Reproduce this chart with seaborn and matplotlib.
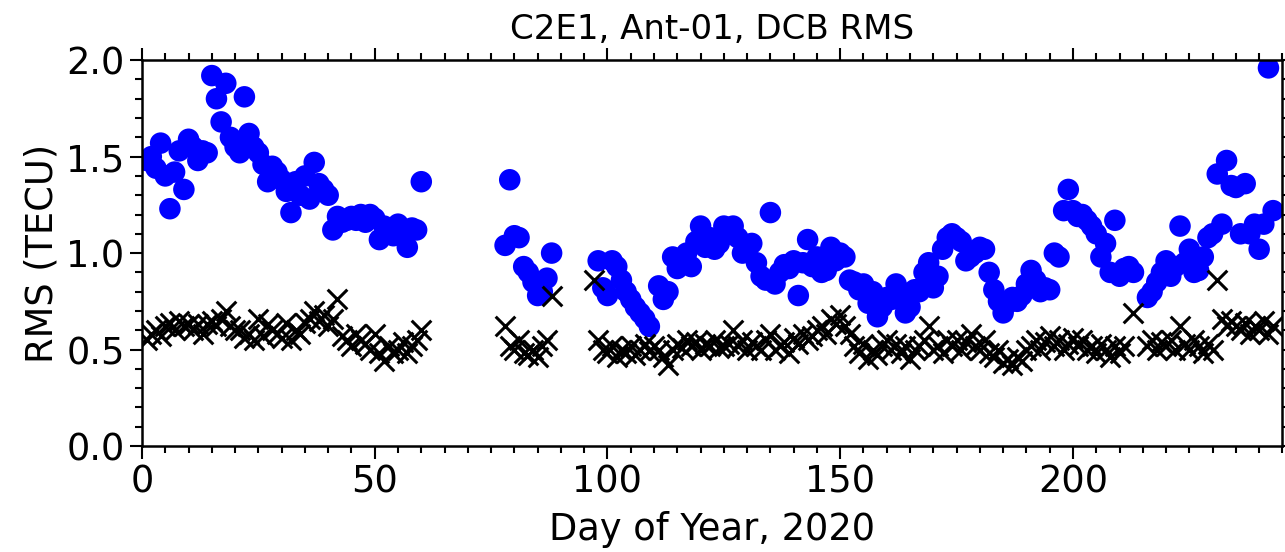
import numpy as np
import pandas as pd
import matplotlib
matplotlib.use("Agg")
import matplotlib.pyplot as plt
import seaborn as sns
from matplotlib.ticker import MultipleLocator

nan = np.nan

# ---- data ----
days_a = list(range(1, 61))
blue_a = [1.48, 1.50, 1.44, 1.57, 1.40, 1.23, 1.42, 1.53, 1.33, 1.59,
          1.55, 1.48, 1.53, 1.52, 1.92, 1.80, 1.68, 1.88, 1.60, 1.55,
          1.52, 1.81, 1.62, 1.55, 1.52, 1.46, 1.37, 1.45, 1.42, 1.38,
          1.32, 1.21, 1.37, 1.30, 1.40, 1.28, 1.47, 1.36, 1.33, 1.30,
          1.12, 1.19, 1.16, 1.17, 1.19, 1.17, 1.20, 1.16, 1.20, 1.18,
          1.07, 1.14, 1.12, 1.09, 1.15, 1.10, 1.03, 1.13, 1.12, 1.37]
cross_a = [0.55, 0.58, 0.60, 0.57, 0.62, 0.64, 0.60, 0.65, 0.62, 0.63,
           0.60, 0.63, 0.58, 0.63, 0.65, 0.62, 0.66, 0.70, 0.62, 0.60,
           0.60, 0.56, 0.58, 0.55, 0.66, 0.57, 0.63, 0.60, 0.58, 0.56,
           0.64, 0.55, 0.60, 0.58, 0.64, 0.66, 0.70, 0.65, 0.68, 0.62,
           0.66, 0.76, 0.57, 0.55, 0.52, 0.58, 0.55, 0.53, 0.50, 0.58,
           0.48, 0.44, 0.52, 0.48, 0.50, 0.54, 0.48, 0.52, 0.55, 0.60]

days_b = list(range(78, 89))
blue_b = [1.04, 1.38, 1.09, 1.08, 0.93, 0.90, 0.85, 0.78, 0.80, 0.87, 1.00]
cross_b = [0.62, 0.52, 0.50, 0.55, 0.48, 0.47, 0.50, 0.46, 0.52, 0.55, 0.78]

days_c = list(range(96, 244))
blue_c = [nan, nan, 0.96, 0.82, 0.78, 0.96, 0.93, 0.86, 0.80, 0.76,
          0.72, 0.69, 0.66, 0.62, nan, 0.83, 0.76, 0.80, 0.98, 0.92,
          0.95, 1.00, 0.93, 1.06, 1.14, 1.03, 1.08, 1.02, 1.05, 1.14,
          1.10, 1.14, 1.08, 1.00, 1.02, 1.05, 0.95, 0.88, 0.86, 1.21,
          0.84, 0.90, 0.94, 0.92, 0.96, 0.78, 0.95, 1.07, 0.93, 0.98,
          0.90, 0.91, 1.03, 0.96, 1.00, 0.98, 0.86, 0.85, 0.81, 0.84,
          0.74, 0.80, 0.67, 0.72, 0.77, 0.76, 0.84, 0.80, 0.69, 0.72,
          0.81, 0.80, 0.90, 0.95, 0.82, 0.88, 1.02, 1.08, 1.10, 1.08,
          1.06, 0.96, 0.98, 1.00, 1.03, 1.02, 0.90, 0.81, 0.75, 0.69,
          0.74, 0.77, 0.75, 0.78, 0.84, 0.91, 0.86, 0.80, 0.82, 0.81,
          1.00, 0.98, 1.22, 1.33, 1.22, 1.19, 1.20, 1.17, 1.14, 1.10,
          0.98, 1.05, 0.90, 1.17, 0.88, 0.92, 0.93, 0.90, nan, nan,
          0.77, 0.80, 0.85, 0.90, 0.96, 0.88, 0.93, 1.14, 0.95, 1.02,
          0.90, 0.91, 0.98, 1.08, 1.10, 1.41, 1.15, 1.48, 1.35, 1.34,
          1.10, 1.36, 1.10, 1.15, 1.02, 1.15, 1.96, 1.22]
cross_c = [nan, 0.86, 0.55, 0.50, 0.48, 0.52, 0.46, 0.50, 0.48, 0.52,
           0.47, 0.50, 0.53, 0.49, 0.52, 0.50, 0.46, 0.42, 0.50, 0.53,
           0.51, 0.55, 0.52, 0.54, 0.50, 0.53, 0.52, 0.55, 0.51, 0.52,
           0.53, 0.60, 0.52, 0.55, 0.50, 0.54, 0.52, 0.50, 0.55, 0.58,
           0.50, 0.52, 0.54, 0.48, 0.56, 0.53, 0.58, 0.55, 0.57, 0.60,
           0.62, 0.58, 0.66, 0.63, 0.68, 0.62, 0.58, 0.52, 0.48, 0.53,
           0.45, 0.50, 0.47, 0.52, 0.55, 0.50, 0.53, 0.48, 0.52, 0.45,
           0.50, 0.52, 0.55, 0.62, 0.50, 0.52, 0.48, 0.55, 0.52, 0.55,
           0.50, 0.54, 0.58, 0.52, 0.50, 0.55, 0.48, 0.46, 0.50, 0.43,
           0.45, 0.42, 0.46, 0.44, 0.50, 0.52, 0.55, 0.50, 0.54, 0.57,
           0.52, 0.55, 0.50, 0.53, 0.56, 0.52, 0.55, 0.50, 0.52, 0.48,
           0.53, 0.50, 0.46, 0.52, 0.48, 0.52, nan, 0.69, nan, nan,
           0.52, 0.55, 0.50, 0.54, 0.52, 0.55, 0.50, 0.62, 0.53, 0.50,
           0.55, 0.52, 0.48, 0.53, 0.50, 0.86, 0.66, 0.62, 0.65, 0.62,
           0.60, 0.64, 0.58, 0.62, 0.60, 0.65, 0.58, 0.62]

days = days_a + days_b + days_c
df = pd.DataFrame({"day": days,
                   "rms_blue": blue_a + blue_b + blue_c,
                   "rms_cross": cross_a + cross_b + cross_c})

# ---- plot ----
sns.set_style("white")
plt.rcParams['font.family'] = ['DejaVu Sans']
for k in ["text.color", "axes.labelcolor", "xtick.color", "ytick.color",
          "axes.edgecolor"]:
    plt.rcParams[k] = "black"
FS = 26.5

fig = plt.figure(figsize=(12.85, 5.52), dpi=100)
ax = fig.add_axes([0.1105, 0.192, 0.8875, 0.699])

d1 = df.dropna(subset=["rms_blue"])
sns.scatterplot(data=d1, x="day", y="rms_blue", ax=ax, color="#0000ff",
                s=240, marker="o", edgecolor="none", linewidth=0, zorder=2)
d2 = df.dropna(subset=["rms_cross"])
sns.scatterplot(data=d2, x="day", y="rms_cross", ax=ax, color="black",
                s=200, marker="x", linewidth=2.2, zorder=3)

ax.set_xlim(0, 245)
ax.set_ylim(0, 2.0)
ax.xaxis.set_major_locator(MultipleLocator(50))
ax.xaxis.set_minor_locator(MultipleLocator(5))
ax.yaxis.set_major_locator(MultipleLocator(0.5))
ax.yaxis.set_minor_locator(MultipleLocator(0.1))
ax.yaxis.set_major_formatter(matplotlib.ticker.FormatStrFormatter('%.1f'))

ax.tick_params(which="both", direction="out", top=True, right=True,
               bottom=True, left=True, width=1.5, labelsize=FS, color="black",
               labelcolor="black")
ax.tick_params(which="major", length=9)
ax.tick_params(which="minor", length=5)
for sp in ax.spines.values():
    sp.set_linewidth(1.8)
    sp.set_color("black")

ax.set_xlabel("Day of Year, 2020", fontsize=FS, labelpad=8)
ax.set_ylabel("RMS (TECU)", fontsize=FS)
ax.set_title("C2E1, Ant-01, DCB RMS", fontsize=24.5, pad=15)

fig.savefig("out.png", dpi=100)
